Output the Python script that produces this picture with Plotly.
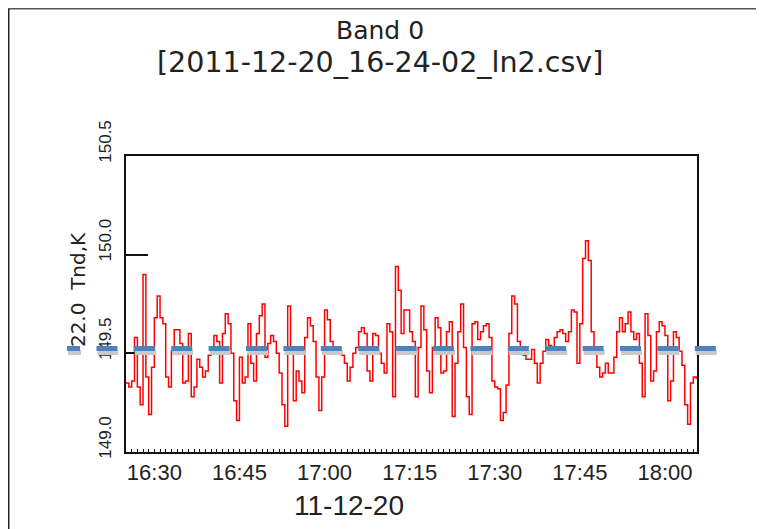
import pandas as pd
import plotly.graph_objects as go

# ---- data ----
start_time = "2011-12-20 16:25:00"
sample_period = "30s"

band0_tnd = [
    149.35, 149.33, 149.36, 149.58, 149.33, 149.24, 149.90, 149.38, 149.19, 149.43,
    149.68, 149.79, 149.68, 149.65, 149.38, 149.33, 149.51, 149.62, 149.62, 149.55,
    149.35, 149.36, 149.60, 149.28, 149.33, 149.47, 149.43, 149.38, 149.41, 149.49,
    149.51, 149.59, 149.56, 149.35, 149.60, 149.70, 149.65, 149.50, 149.26, 149.16,
    149.48,
    149.35, 149.38, 149.65, 149.45, 149.36, 149.60, 149.69, 149.75, 149.48, 149.55,
    149.59, 149.56, 149.50, 149.40, 149.24, 149.13, 149.74, 149.51, 149.26, 149.41,
    149.36, 149.30, 149.58, 149.68, 149.64, 149.56, 149.38, 149.21, 149.38, 149.72,
    149.67, 149.56, 149.50, 149.51, 149.50, 149.49, 149.45, 149.36, 149.43, 149.50,
    149.53, 149.61, 149.63, 149.60, 149.41, 149.36, 149.60, 149.59, 149.50, 149.45,
    149.40, 149.65, 149.61, 149.28, 149.94, 149.82, 149.60, 149.72, 149.72, 149.61,
    149.56, 149.28, 149.53, 149.74, 149.62, 149.41, 149.30, 149.53, 149.68, 149.63,
    149.40, 149.41, 149.61, 149.66, 149.18, 149.45, 149.61, 149.75, 149.53, 149.28,
    149.19, 149.65, 149.66, 149.57, 149.61, 149.64, 149.65, 149.58, 149.36, 149.33,
    149.32, 149.16, 149.20, 149.34, 149.60, 149.79, 149.75, 149.56, 149.50, 149.49,
    149.47, 149.47, 149.52, 149.45, 149.35, 149.45, 149.51, 149.57, 149.54, 149.52,
    149.58, 149.61, 149.62, 149.60, 149.56, 149.61, 149.72, 149.71, 149.45, 149.65,
    149.98, 150.07, 149.97, 149.61, 149.50, 149.43, 149.38, 149.40, 149.45, 149.40,
    149.40, 149.48, 149.61, 149.68, 149.61, 149.65, 149.71, 149.61, 149.57, 149.60,
    149.45, 149.28, 149.70, 149.59, 149.36, 149.41, 149.61, 149.66, 149.64, 149.59,
    149.26, 149.36, 149.61, 149.58, 149.51, 149.44, 149.24, 149.14, 149.35, 149.38,
    149.37,
]
reference_level = 149.525
y_ticks = [149.0, 149.5, 150.0, 150.5]
x_range = ["2011-12-20 16:25:00", "2011-12-20 18:05:39"]
title_line1 = "Band 0"
title_line2 = "[2011-12-20_16-24-02_ln2.csv]"
y_title = "22.0  Tnd,K"
x_title = "11-12-20"

times = pd.date_range(start_time, periods=len(band0_tnd), freq=sample_period)

fig = go.Figure()
fig.add_trace(go.Scatter(
    x=times, y=band0_tnd, mode="lines",
    line=dict(color="#ff0000", width=1.5, shape="hv"),
    showlegend=False, hoverinfo="skip",
))

# dash pattern of the reference line (first dash partly cut)
dash_pattern = "13px,16.4px" + ",21px,16.4px" * 17

# grey shadow under the dashed reference line
fig.add_shape(type="line", xref="paper", yref="y",
              x0=-0.1016, x1=1.035, ysizemode="pixel", yanchor=reference_level,
              y0=-4, y1=-4,
              line=dict(color="#c9c9c9", width=5, dash=dash_pattern), layer="above")
fig.add_shape(type="line", xref="paper", yref="y",
              x0=-0.1033, x1=1.0333, y0=reference_level, y1=reference_level,
              line=dict(color="#4f81bd", width=5, dash=dash_pattern), layer="above")

# outer frame (top and left edges visible)
fig.add_shape(type="line", xref="paper", yref="paper", x0=-0.2058, x1=1.2,
              y0=1.4983, y1=1.4983, line=dict(color="#555555", width=2))
fig.add_shape(type="line", xref="paper", yref="paper", x0=-0.2058, x1=-0.2058,
              y0=1.4983, y1=-0.4, line=dict(color="#222222", width=2))

fig.add_annotation(text=title_line1, xref="paper", yref="paper", x=0.4448, y=1.4223,
                   yanchor="middle", showarrow=False,
                   font=dict(family="DejaVu Sans", size=25, color="#222222"))
fig.add_annotation(text=title_line2, xref="paper", yref="paper", x=0.4448, y=1.3142,
                   yanchor="middle", showarrow=False,
                   font=dict(family="DejaVu Sans", size=28.5, color="#222222"))
fig.add_annotation(text=y_title, xref="paper", yref="paper", x=0, y=0.547,
                   xshift=-62, textangle=-90, showarrow=False,
                   font=dict(family="DejaVu Sans", size=20, color="#222222"))
fig.add_annotation(text=x_title, xref="paper", yref="paper", x=0.39, y=0,
                   yshift=-53, yanchor="middle", showarrow=False,
                   font=dict(family="Liberation Sans", size=28, color="#222222"))

fig.update_layout(
    width=764, height=529,
    margin=dict(l=118, r=75, t=148, b=85),
    paper_bgcolor="white", plot_bgcolor="white",
    xaxis=dict(
        range=x_range, type="date", tickformat="%H:%M",
        tick0="2011-12-20 16:30:00", dtick=15 * 60 * 1000,
        showgrid=False, zeroline=False,
        showline=True, linecolor="#111111", linewidth=2, mirror=True,
        ticks="inside", ticklen=3, tickwidth=1, tickcolor="#111111",
        minor=dict(dtick=60 * 1000, ticks="inside", ticklen=3, tickwidth=1,
                   tickcolor="#111111", showgrid=False),
        tickfont=dict(family="Liberation Sans", size=22, color="#222222"),
        ticklabelstandoff=0,
    ),
    yaxis=dict(
        range=[149.0, 150.5], tickvals=y_ticks, tickformat=".1f",
        showgrid=False, zeroline=False,
        showline=True, linecolor="#111111", linewidth=2, mirror=True,
        ticks="inside", ticklen=22, tickwidth=2, tickcolor="#111111",
        tickangle=-90, ticklabelshift=-12,
        tickfont=dict(family="Liberation Sans", size=17, color="#222222"),
        ticklabelstandoff=6,
    ),
)

fig.write_html("out.html")
